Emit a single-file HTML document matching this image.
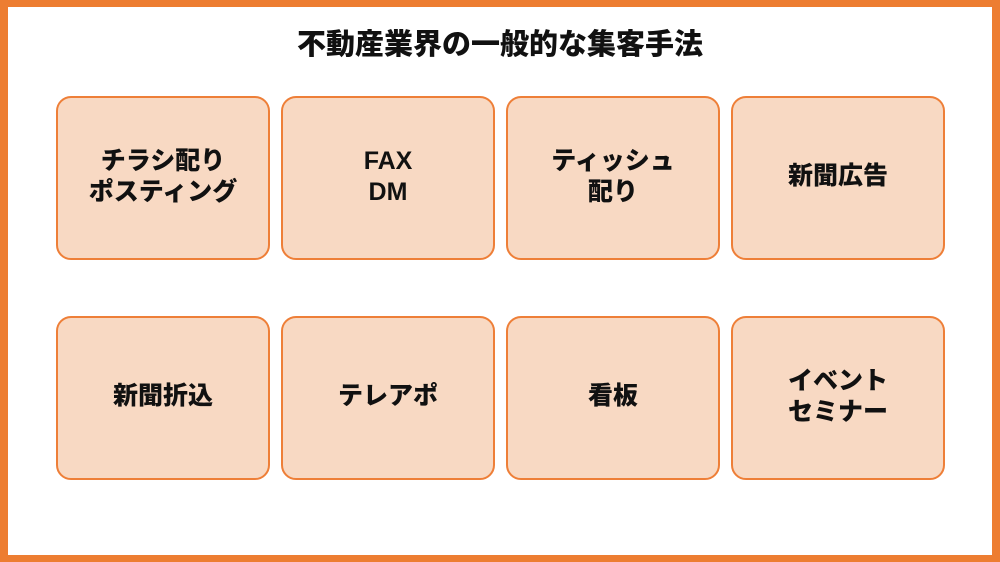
<!DOCTYPE html>
<html><head><meta charset="utf-8"><style>
*{margin:0;padding:0;box-sizing:border-box}
body{width:1000px;height:562px;background:#ed7d31;position:relative;overflow:hidden;font-family:"Liberation Sans","Noto Sans CJK JP",sans-serif}
.in{position:absolute;left:8px;top:7px;right:8px;bottom:7px;background:#fff}
h1{position:absolute;left:0;width:1000px;top:27px;text-align:center;font-size:29px;font-weight:900;color:#111;line-height:36px}
.b{position:absolute;width:214px;height:164px;background:#f8d9c3;border:2px solid #ee7f38;border-radius:15px;display:flex;align-items:center;justify-content:center;text-align:center;font-size:25px;font-weight:900;line-height:31px;color:#111;padding-bottom:3px}
</style></head><body>
<div class="in"></div>
<h1>不動産業界の一般的な集客手法</h1>
<div class="b" style="left:56px;top:96px">チラシ配り<br>ポスティング</div>
<div class="b" style="left:281px;top:96px">FAX<br>DM</div>
<div class="b" style="left:506px;top:96px">ティッシュ<br>配り</div>
<div class="b" style="left:731px;top:96px">新聞広告</div>
<div class="b" style="left:56px;top:316px">新聞折込</div>
<div class="b" style="left:281px;top:316px">テレアポ</div>
<div class="b" style="left:506px;top:316px">看板</div>
<div class="b" style="left:731px;top:316px">イベント<br>セミナー</div>
</body></html>
